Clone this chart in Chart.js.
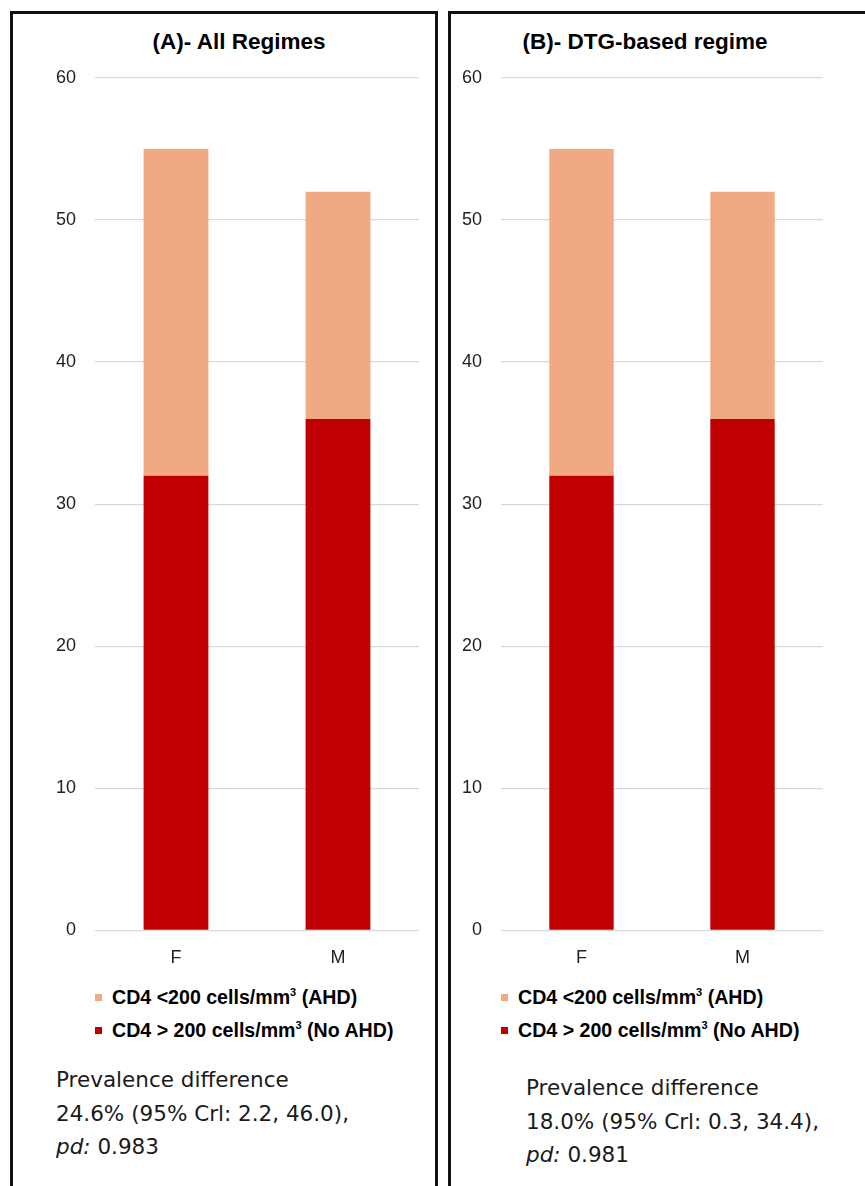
<!DOCTYPE html>
<html>
<head>
<meta charset="utf-8">
<script src="https://cdn.jsdelivr.net/npm/chart.js@4.4.1/dist/chart.umd.min.js"></script>
<style>
  html, body { margin: 0; padding: 0; background: #fff; overflow: hidden; }
  body { width: 865px; height: 1186px; position: relative; font-family: 'Liberation Sans', Arial, sans-serif; }
  .panel { position: absolute; border: 3px solid #111; box-sizing: border-box; }
  .chart-box { position: absolute; }
  .title { position: absolute; width: 400px; margin-left: -200px; text-align: center; font-weight: bold; font-size: 22.5px; line-height: 26px; color: #000; white-space: nowrap; }
  .legend { position: absolute; font-weight: bold; font-size: 19.6px; color: #000; }
  .legend-row { position: absolute; white-space: nowrap; line-height: 22px; }
  .legend-row .sw { display: inline-block; width: 7px; height: 7px; margin-right: 10px; vertical-align: 3px; }
  .legend-row sup { font-size: 11px; vertical-align: 8px; line-height: 0; }
  .note { position: absolute; font-family: 'DejaVu Sans', sans-serif; font-size: 21.5px; line-height: 33.5px; color: #1a1a1a; white-space: nowrap; }
</style>
</head>
<body>
<div class="panel" style="left:10px; top:11px; width:428px; height:1200px;"></div>
<div class="panel" style="left:448px; top:11px; width:430px; height:1200px;"></div>

<div class="title" id="titleA" style="left:239px; top:29px;"></div>
<div class="title" id="titleB" style="left:645px; top:29px;"></div>

<div class="chart-box" style="left:12px; top:14px; width:424px; height:964px;"><canvas id="chartA"></canvas></div>
<div class="chart-box" style="left:451px; top:14px; width:414px; height:964px;"><canvas id="chartB"></canvas></div>

<div class="legend" id="legendA" style="left:95px; top:986px;"></div>
<div class="legend" id="legendB" style="left:501px; top:986px;"></div>

<div class="note" style="left:56px; top:1063px;">Prevalence difference<br>24.6% (95% Crl: 2.2, 46.0),<br><i>pd:</i> 0.983</div>
<div class="note" style="left:526px; top:1071px;">Prevalence difference<br>18.0% (95% Crl: 0.3, 34.4),<br><i>pd:</i> 0.981</div>

<script>
// data
const categories = ['F', 'M'];
const yTicks = [0, 10, 20, 30, 40, 50, 60];

const titleA = '(A)- All Regimes';
const noAhdA = [32, 36];
const ahdA = [23, 16];

const titleB = '(B)- DTG-based regime';
const noAhdB = [32, 36];
const ahdB = [23, 16];

const seriesLabels = ['CD4 <200 cells/mm<sup>3</sup> (AHD)', 'CD4 > 200 cells/mm<sup>3</sup> (No AHD)'];
const COLOR_AHD = '#F1A983';
const COLOR_NO_AHD = '#C00000';
const TICK_COLOR = '#222';

// one panel
function makePanel(canvasId, noAhd, ahd, pad) {
    const ctx = document.getElementById(canvasId);
    return new Chart(ctx, {
        type: 'bar',
        data: {
            labels: categories,
            datasets: [
                { label: 'CD4 > 200 cells/mm³ (No AHD)', data: noAhd, backgroundColor: COLOR_NO_AHD, barPercentage: 0.4, categoryPercentage: 1 },
                { label: 'CD4 <200 cells/mm³ (AHD)', data: ahd, backgroundColor: COLOR_AHD, barPercentage: 0.4, categoryPercentage: 1 }
            ]
        },
        options: {
            responsive: true,
            maintainAspectRatio: false,
            animation: false,
            layout: { padding: { left: pad.left, right: pad.right, top: 64, bottom: 0 } },
            plugins: {
                legend: { display: false },
                tooltip: { enabled: false }
            },
            scales: {
                x: {
                    stacked: true,
                    grid: { display: false },
                    border: { display: false },
                    ticks: { color: TICK_COLOR, padding: 9, font: { family: "'Liberation Sans', Arial, sans-serif", size: 18 } }
                },
                y: {
                    stacked: true,
                    min: 0,
                    max: 60,
                    afterBuildTicks: (scale) => { scale.ticks = yTicks.map(v => ({ value: v })); },
                    afterFit: (scale) => { scale.width = 60; },
                    grid: { color: '#d9d9d9', lineWidth: 1.3, drawTicks: false },
                    border: { display: false },
                    ticks: { color: TICK_COLOR, padding: 19, font: { family: "'Liberation Sans', Arial, sans-serif", size: 18 } }
                }
            }
        }
    });
}

function buildLegend(elId) {
    const el = document.getElementById(elId);
    const colors = [COLOR_AHD, COLOR_NO_AHD];
    seriesLabels.forEach((label, i) => {
        const row = document.createElement('div');
        row.className = 'legend-row';
        row.style.top = (i * 33) + 'px';
        row.innerHTML = `<span class="sw" style="background:${colors[i]}"></span>${label}`;
        el.appendChild(row);
    });
}

document.getElementById('titleA').textContent = titleA;
document.getElementById('titleB').textContent = titleB;

// chart area: A 95..419, B 501..823 (page px)
makePanel('chartA', noAhdA, ahdA, { left: 23, right: 17 });
makePanel('chartB', noAhdB, ahdB, { left: -10, right: 42 });
buildLegend('legendA');
buildLegend('legendB');
</script>
</body>
</html>
